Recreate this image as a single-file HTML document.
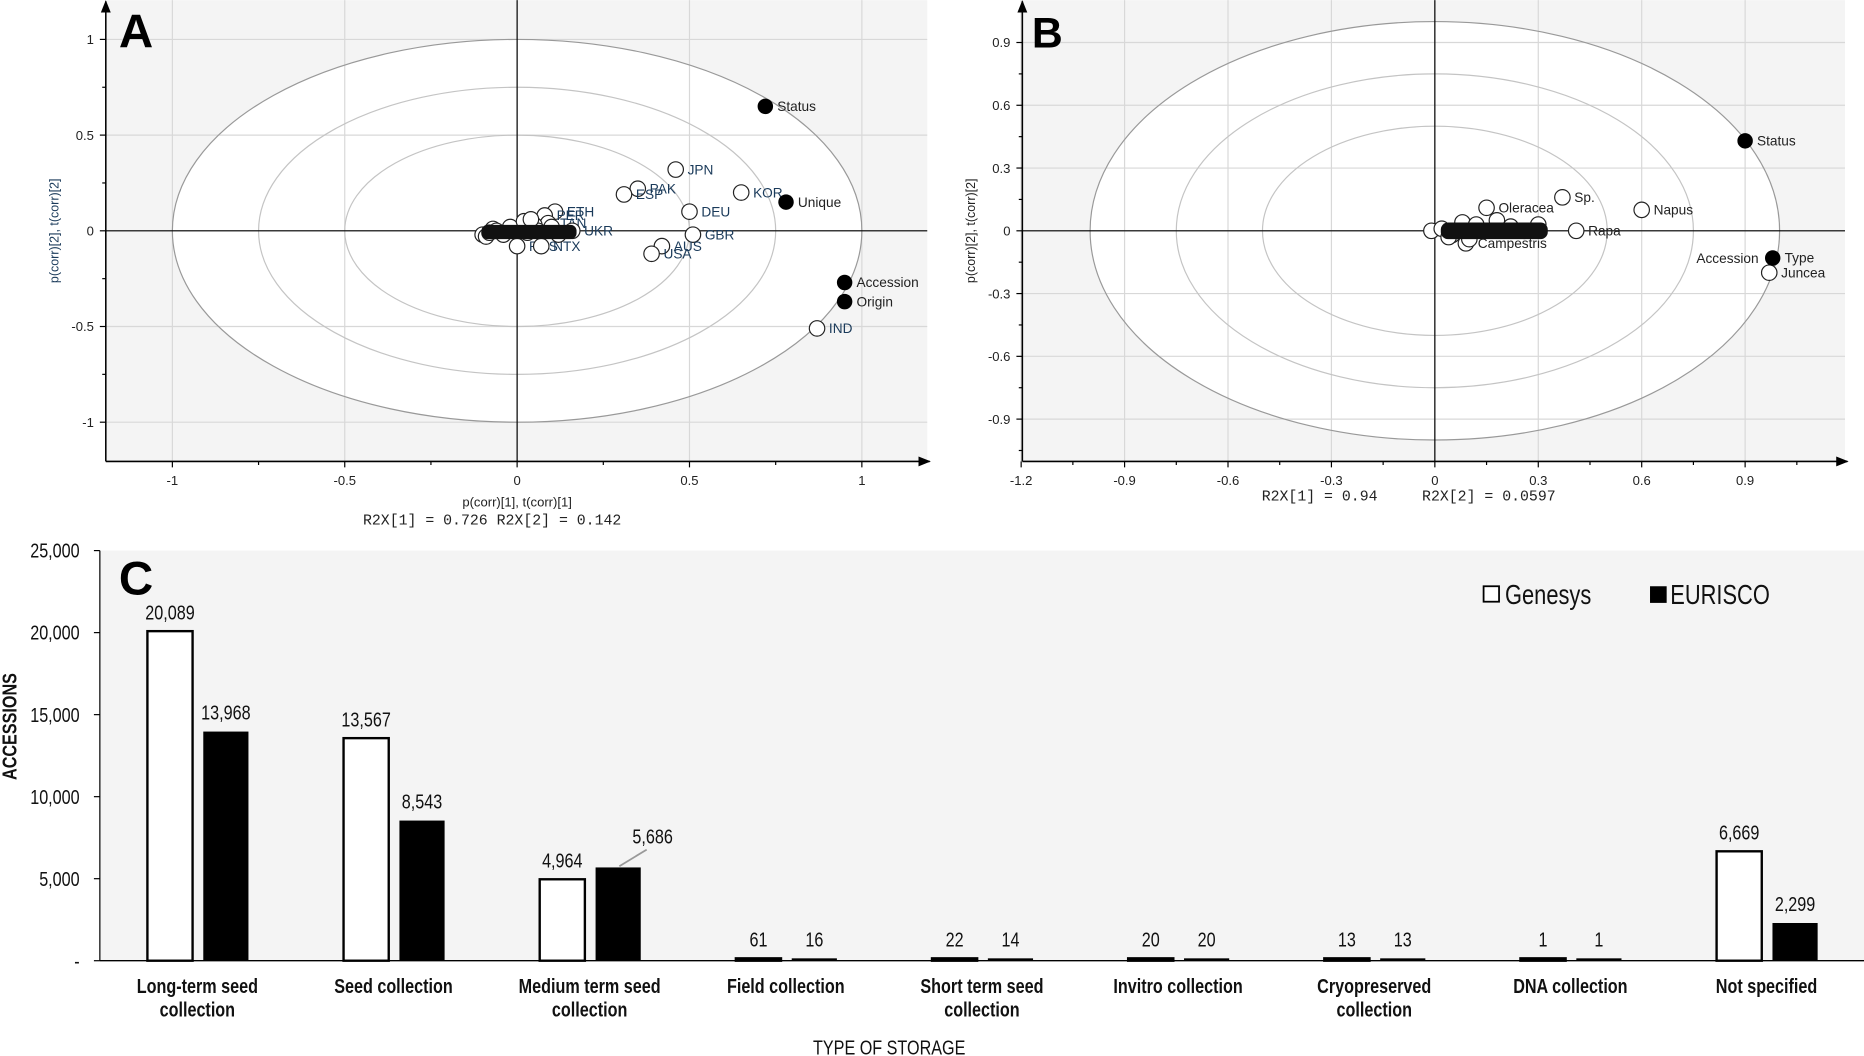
<!DOCTYPE html>
<html><head><meta charset="utf-8">
<style>
html,body{margin:0;padding:0;background:#fff;}
svg{display:block;}
.t{font-family:"Liberation Sans",sans-serif;}
.n{font-family:"Liberation Sans Narrow","Liberation Sans",sans-serif;}
.m{font-family:"Liberation Mono",monospace;white-space:pre;}
</style></head>
<body>
<svg id="fig" width="1864" height="1056" viewBox="0 0 1568 888" xmlns="http://www.w3.org/2000/svg">
<defs>
<marker id="arr" viewBox="0 0 10 10" refX="9" refY="5" markerWidth="8" markerHeight="8" orient="auto"><path d="M0,1 L10,5 L0,9 z" fill="#000"/></marker>
</defs>
<g id="pA"></g>
<g id="pB"></g>
<g id="pC"></g>
</svg>
<script>
// ---------- Panel A data ----------
const aXTicks = [-1, -0.5, 0, 0.5, 1];
const aYTicks = [1, 0.5, 0, -0.5, -1];
const aVarNames = ["Status","Unique","Accession","Origin"];
const aVarX = [0.72, 0.78, 0.95, 0.95];
const aVarY = [0.65, 0.15, -0.27, -0.37];
const aObsNames = ["IND","KOR","JPN","PAK","ESP","DEU","GBR","AUS","USA","ETH","PER","TAN","UKR","RUS","NTX","","","","","","","","","","","","","",""];
const aObsX = [0.87,0.65,0.46,0.35,0.31,0.5,0.51,0.42,0.39,0.11,0.08,0.09,0.16,0.0,0.07,-0.1,-0.09,-0.07,-0.06,-0.04,-0.02,0.02,0.05,0.03,0.06,0.1,0.12,-0.08,0.04];
const aObsY = [-0.51,0.2,0.32,0.22,0.19,0.1,-0.02,-0.08,-0.12,0.1,0.08,0.04,0.0,-0.08,-0.08,-0.02,-0.03,0.01,0.0,-0.02,0.02,0.05,0.03,-0.01,0.0,0.02,-0.02,-0.01,0.06];
// ---------- Panel B data ----------
const bXTicks = [-1.2,-0.9,-0.6,-0.3,0,0.3,0.6,0.9];
const bYTicks = [0.9,0.6,0.3,0,-0.3,-0.6,-0.9];
const bVarNames = ["Status","Type"];
const bVarX = [0.9, 0.98];
const bVarY = [0.43, -0.13];
const bObsNames = ["Juncea","Napus","Sp.","Rapa","Oleracea","Campestris","","","","","","","","","","",""];
const bObsX = [0.97,0.6,0.37,0.41,0.15,0.09,-0.01,0.02,0.05,0.08,0.12,0.18,0.22,0.26,0.3,0.04,0.1];
const bObsY = [-0.2,0.1,0.16,0.0,0.11,-0.06,0.0,0.01,-0.02,0.04,0.03,0.05,0.02,0.0,0.03,-0.03,-0.04];
// ---------- Panel C data ----------
const cCategories = [["Long-term seed","collection"],["Seed collection"],["Medium term seed","collection"],["Field collection"],["Short term seed","collection"],["Invitro collection"],["Cryopreserved","collection"],["DNA collection"],["Not specified"]];
const cGenesys = [20089,13567,4964,61,22,20,13,1,6669];
const cEurisco = [13968,8543,5686,16,14,20,13,1,2299];
const cYTicks = [0,5000,10000,15000,20000,25000];
const cYTickLabels = ["-","5,000","10,000","15,000","20,000","25,000"];

const NS="http://www.w3.org/2000/svg";
function mk(parent,tag,attrs,text){const e=document.createElementNS(NS,tag);for(const k in attrs)e.setAttribute(k,attrs[k]);if(text!==undefined)e.textContent=text;parent.appendChild(e);return e;}
// condensed text: scale horizontally
function ct(parent,x,y,attrs,text){const a=Object.assign({x:0,y:0,transform:`translate(${x},${y}) scale(0.8,1)`},attrs);return mk(parent,"text",a,text);}
const fmt=v=>v.toLocaleString("en-US");

function scatter(g,cfg){
  const {x0,x1,y0,y1,cx,cy,kx,ky,xt,yt,vn,vx,vy,on,ox,oy,rings,labelColor}=cfg;
  const sx=v=>cx+v*kx, sy=v=>cy-v*ky;
  const bg=mk(g,"rect",{x:x0,y:y0,width:x1-x0,height:y1-y0,fill:"#f4f4f4"});
  
  
  const el=mk(g,"ellipse",{cx:cx,cy:cy,rx:kx,ry:ky,fill:"#fff",stroke:"none"});
  
  
  xt.forEach(v=>{const l=mk(g,"line",{x1:sx(v),x2:sx(v),y1:y0,y2:y1,stroke:"#d8d8d8","stroke-width":1});
    
    });
  yt.forEach(v=>{const l=mk(g,"line",{x1:x0,x2:x1,y1:sy(v),y2:sy(v),stroke:"#d8d8d8","stroke-width":1});
    
    });
  rings.forEach((r,i)=>{const e=mk(g,"ellipse",{cx:cx,cy:cy,rx:kx*r,ry:ky*r,fill:"none",stroke:i==0?"#999":"#c4c4c4","stroke-width":1});
    
    });
  mk(g,"line",{x1:x0,x2:x1,y1:cy,y2:cy,stroke:"#000","stroke-width":1});
  mk(g,"line",{x1:cx,x2:cx,y1:y0,y2:y1,stroke:"#000","stroke-width":1});
  const ya=mk(g,"line",{x1:x0,x2:x0,y1:y1,y2:y0+1,stroke:"#000","stroke-width":1.3,"marker-end":"url(#arr)"});
  
  
  const xa=mk(g,"line",{x1:x0,x2:x1+2,y1:y1,y2:y1,stroke:"#000","stroke-width":1.3,"marker-end":"url(#arr)"});
  
  
  const dx=xt[1]-xt[0], dy=yt[0]-yt[1];
  xt.forEach(v=>{mk(g,"line",{x1:sx(v),x2:sx(v),y1:y1,y2:y1+5,stroke:"#000"});
    const m=sx(v+dx/2); if(m<x1) mk(g,"line",{x1:m,x2:m,y1:y1,y2:y1+3,stroke:"#000"});
    const t=mk(g,"text",{x:sx(v),y:y1+20,"text-anchor":"middle","font-size":11,fill:"#222",class:"t"},String(v));
    
    });
  yt.forEach(v=>{mk(g,"line",{x1:x0-5,x2:x0,y1:sy(v),y2:sy(v),stroke:"#000"});
    const m=sy(v-dy/2); if(m<y1) mk(g,"line",{x1:x0-3,x2:x0,y1:m,y2:m,stroke:"#000"});
    const m2=sy(v+dy/2); if(m2>y0 && v===yt[0]) mk(g,"line",{x1:x0-3,x2:x0,y1:m2,y2:m2,stroke:"#000"});
    const t=mk(g,"text",{x:x0-10,y:sy(v)+4,"text-anchor":"end","font-size":11,fill:"#222",class:"t"},String(v));
    
    });
  on.forEach((n,i)=>{const c=mk(g,"circle",{cx:sx(ox[i]),cy:sy(oy[i]),r:6.5,fill:"#fff",stroke:"#222","stroke-width":1});
    
    
    if(n){const t=mk(g,"text",{x:sx(ox[i])+10,y:sy(oy[i])+4,"font-size":11.5,fill:labelColor,class:"t"},n);
      
      }});
  vn.forEach((n,i)=>{const c=mk(g,"circle",{cx:sx(vx[i]),cy:sy(vy[i]),r:6.5,fill:"#000"});
    
    
    const t=mk(g,"text",{x:sx(vx[i])+10,y:sy(vy[i])+4,"font-size":11.5,fill:"#222",class:"t"},n);
    
    });
}
const pA=document.getElementById("pA");
scatter(pA,{x0:89,x1:780,y0:0,y1:388,cx:435,cy:194,kx:290,ky:161,xt:aXTicks,yt:aYTicks,vn:aVarNames,vx:aVarX,vy:aVarY,on:aObsNames,ox:aObsX,oy:aObsY,rings:[1,0.75,0.5],labelColor:"#1a3a5a"});
const clA=mk(pA,"rect",{x:405,y:189,width:80,height:12,rx:5,fill:"#111"});


let t;
t=mk(pA,"text",{x:100,y:40,"font-size":40,"font-weight":"bold",class:"t"},"A");
t=mk(pA,"text",{x:435,y:426,"text-anchor":"middle","font-size":11,fill:"#222",class:"t"},"p(corr)[1], t(corr)[1]");
t=mk(pA,"text",{x:414,y:441,"text-anchor":"middle","font-size":12.5,fill:"#222",class:"m"},"R2X[1] = 0.726 R2X[2] = 0.142");
t=mk(pA,"text",{x:0,y:0,transform:"translate(49,194) rotate(-90)","text-anchor":"middle","font-size":10.5,fill:"#1a3a5a",class:"t"},"p(corr)[2], t(corr)[2]");

const pB=document.getElementById("pB");
scatter(pB,{x0:860,x1:1552,y0:0,y1:388,cx:1207,cy:194,kx:290,ky:176,xt:bXTicks,yt:bYTicks,vn:bVarNames,vx:bVarX,vy:bVarY,on:bObsNames,ox:bObsX,oy:bObsY,rings:[1,0.75,0.5],labelColor:"#222"});
const clB=mk(pB,"rect",{x:1212,y:187,width:90,height:14,rx:6,fill:"#111"});


t=mk(pB,"text",{x:1427,y:221,"font-size":11.5,fill:"#222",class:"t"},"Accession");
t=mk(pB,"text",{x:868,y:40,"font-size":36,"font-weight":"bold",class:"t"},"B");
t=mk(pB,"text",{x:1185,y:421,"text-anchor":"middle","font-size":12.5,fill:"#222",class:"m"},"R2X[1] = 0.94     R2X[2] = 0.0597");
t=mk(pB,"text",{x:0,y:0,transform:"translate(820,194) rotate(-90)","text-anchor":"middle","font-size":10.5,fill:"#222",class:"t"},"p(corr)[2], t(corr)[2]");

// ---------- Panel C ----------
const pC=document.getElementById("pC");
const cx0=84,cx1=1568,cyTop=463,cyBot=808,cMax=25000;
const ys=v=>cyBot-(v/cMax)*(cyBot-cyTop);
const xc=i=>166+i*165;
let r=mk(pC,"rect",{x:cx0,y:cyTop,width:cx1-cx0,height:cyBot-cyTop,fill:"#f4f4f4"});

r=mk(pC,"line",{x1:cx0,x2:cx0,y1:cyTop,y2:cyBot,stroke:"#000","stroke-width":1});

r=mk(pC,"line",{x1:cx0,x2:cx1,y1:cyBot,y2:cyBot,stroke:"#000","stroke-width":1.2});

cYTicks.forEach((v,i)=>{mk(pC,"line",{x1:cx0-5,x2:cx0,y1:ys(v),y2:ys(v),stroke:"#000"});
  const tt=ct(pC,cx0-17,ys(v)+6,{"text-anchor":"end","font-size":17,fill:"#111",class:"n"},cYTickLabels[i]);
  
  });
cCategories.forEach((lines,i)=>{
  const bw=38;
  const g=cGenesys[i],e=cEurisco[i];
  const hg=Math.max(2,cyBot-ys(g)),he=Math.max(2,cyBot-ys(e));
  const b1=mk(pC,"rect",{x:xc(i)-42,y:cyBot-hg,width:bw,height:hg,fill:hg>3?"#fff":"#000",stroke:"#000","stroke-width":2});
  
  
  const b2=mk(pC,"rect",{x:xc(i)+5,y:cyBot-he,width:bw,height:he,fill:"#000"});
  
  
  const l1=ct(pC,xc(i)-23,cyBot-hg-10,{"text-anchor":"middle","font-size":17,fill:"#111",class:"n"},fmt(g));
  
  
  let ly=cyBot-he-10, lx=xc(i)+24;
  if(i===2){ly=cyBot-he-20;lx=xc(i)+53;
    const ln=mk(pC,"line",{x1:xc(i)+25,y1:cyBot-he-1,x2:xc(i)+48,y2:cyBot-he-15,stroke:"#999","stroke-width":1.5});
    }
  const l2=ct(pC,lx,ly,{"text-anchor":"middle","font-size":17,fill:"#111",class:"n"},fmt(e));
  
  
  lines.forEach((s,k)=>{const tt=ct(pC,xc(i),835+k*20,{"text-anchor":"middle","font-size":17,"font-weight":"bold",fill:"#111",class:"n"},s);
    
    });
});
t=mk(pC,"text",{x:100,y:500,"font-size":40,"font-weight":"bold",class:"t"},"C");
t=ct(pC,748,887,{"text-anchor":"middle","font-size":17,fill:"#111",class:"n"},"TYPE OF STORAGE");
t=mk(pC,"text",{x:0,y:0,transform:"translate(14,611) rotate(-90) scale(0.8,1)","text-anchor":"middle","font-size":17,"font-weight":"bold",fill:"#111",class:"n"},"ACCESSIONS");
r=mk(pC,"rect",{x:1248,y:493,width:13,height:13,fill:"#fff",stroke:"#000","stroke-width":1.5});
t=ct(pC,1266,508,{"font-size":23,fill:"#111",class:"n"},"Genesys");
r=mk(pC,"rect",{x:1388,y:493,width:14,height:14,fill:"#000"});
t=ct(pC,1405,508,{"font-size":23,fill:"#111",class:"n"},"EURISCO");
</script>
</body></html>
